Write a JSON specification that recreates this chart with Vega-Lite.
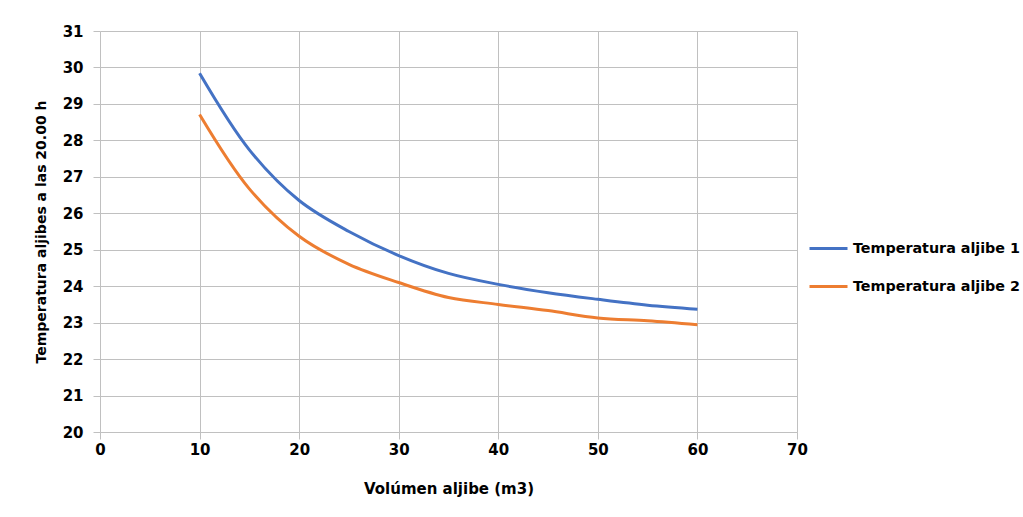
{
  "$schema": "https://vega.github.io/schema/vega-lite/v6.json",
  "width": 697,
  "height": 401,
  "autosize": {"type": "none"},
  "padding": {"left": 100, "top": 31, "right": 226, "bottom": 85},
  "background": "white",
  "data": {
    "values": [
      {"v": 10, "t": 29.84, "s": "Temperatura aljibe 1"},
      {"v": 15, "t": 27.74, "s": "Temperatura aljibe 1"},
      {"v": 20, "t": 26.35, "s": "Temperatura aljibe 1"},
      {"v": 25, "t": 25.5, "s": "Temperatura aljibe 1"},
      {"v": 30, "t": 24.84, "s": "Temperatura aljibe 1"},
      {"v": 35, "t": 24.35, "s": "Temperatura aljibe 1"},
      {"v": 40, "t": 24.05, "s": "Temperatura aljibe 1"},
      {"v": 45, "t": 23.82, "s": "Temperatura aljibe 1"},
      {"v": 50, "t": 23.64, "s": "Temperatura aljibe 1"},
      {"v": 55, "t": 23.48, "s": "Temperatura aljibe 1"},
      {"v": 60, "t": 23.37, "s": "Temperatura aljibe 1"},
      {"v": 10, "t": 28.71, "s": "Temperatura aljibe 2"},
      {"v": 15, "t": 26.67, "s": "Temperatura aljibe 2"},
      {"v": 20, "t": 25.37, "s": "Temperatura aljibe 2"},
      {"v": 25, "t": 24.6, "s": "Temperatura aljibe 2"},
      {"v": 30, "t": 24.1, "s": "Temperatura aljibe 2"},
      {"v": 35, "t": 23.69, "s": "Temperatura aljibe 2"},
      {"v": 40, "t": 23.5, "s": "Temperatura aljibe 2"},
      {"v": 45, "t": 23.33, "s": "Temperatura aljibe 2"},
      {"v": 50, "t": 23.13, "s": "Temperatura aljibe 2"},
      {"v": 55, "t": 23.05, "s": "Temperatura aljibe 2"},
      {"v": 60, "t": 22.94, "s": "Temperatura aljibe 2"}
    ]
  },
  "mark": {"type": "line", "strokeWidth": 3, "interpolate": "catmull-rom"},
  "encoding": {
    "x": {
      "field": "v", "type": "quantitative",
      "scale": {"domain": [0, 70], "nice": false},
      "axis": {
        "title": "Volúmen aljibe (m3)", "values": [0, 10, 20, 30, 40, 50, 60, 70],
        "titlePadding": 24, "labelPadding": 3, "labelFlush": false
      }
    },
    "y": {
      "field": "t", "type": "quantitative",
      "scale": {"domain": [20, 31], "nice": false, "zero": false},
      "axis": {
        "title": "Temperatura aljibes a las 20.00 h",
        "values": [20, 21, 22, 23, 24, 25, 26, 27, 28, 29, 30, 31],
        "domain": false, "titlePadding": 14, "titleFontSize": 14, "labelPadding": 10,
        "labelFlush": false
      }
    },
    "color": {
      "field": "s", "type": "nominal",
      "scale": {"range": ["#4472C4", "#ED7D31"]},
      "legend": {
        "title": null, "orient": "none", "legendX": 708, "legendY": 197,
        "symbolType": "stroke", "symbolSize": 1444, "symbolStrokeWidth": 3,
        "labelFontSize": 14.3, "labelFont": "DejaVu Sans", "labelFontWeight": "bold",
        "labelColor": "#000000", "rowPadding": 10, "labelOffset": 4, "labelLimit": 400
      }
    }
  },
  "config": {
    "view": {"stroke": null},
    "axis": {
      "grid": true, "gridColor": "#c0c0c0", "gridWidth": 1,
      "domainColor": "#c0c0c0", "tickColor": "#c0c0c0", "tickSize": 7,
      "labelFont": "DejaVu Sans", "labelFontSize": 15, "labelFontWeight": "bold",
      "labelColor": "#000000",
      "titleFont": "DejaVu Sans", "titleFontSize": 15, "titleFontWeight": "bold",
      "titleColor": "#000000"
    }
  }
}
